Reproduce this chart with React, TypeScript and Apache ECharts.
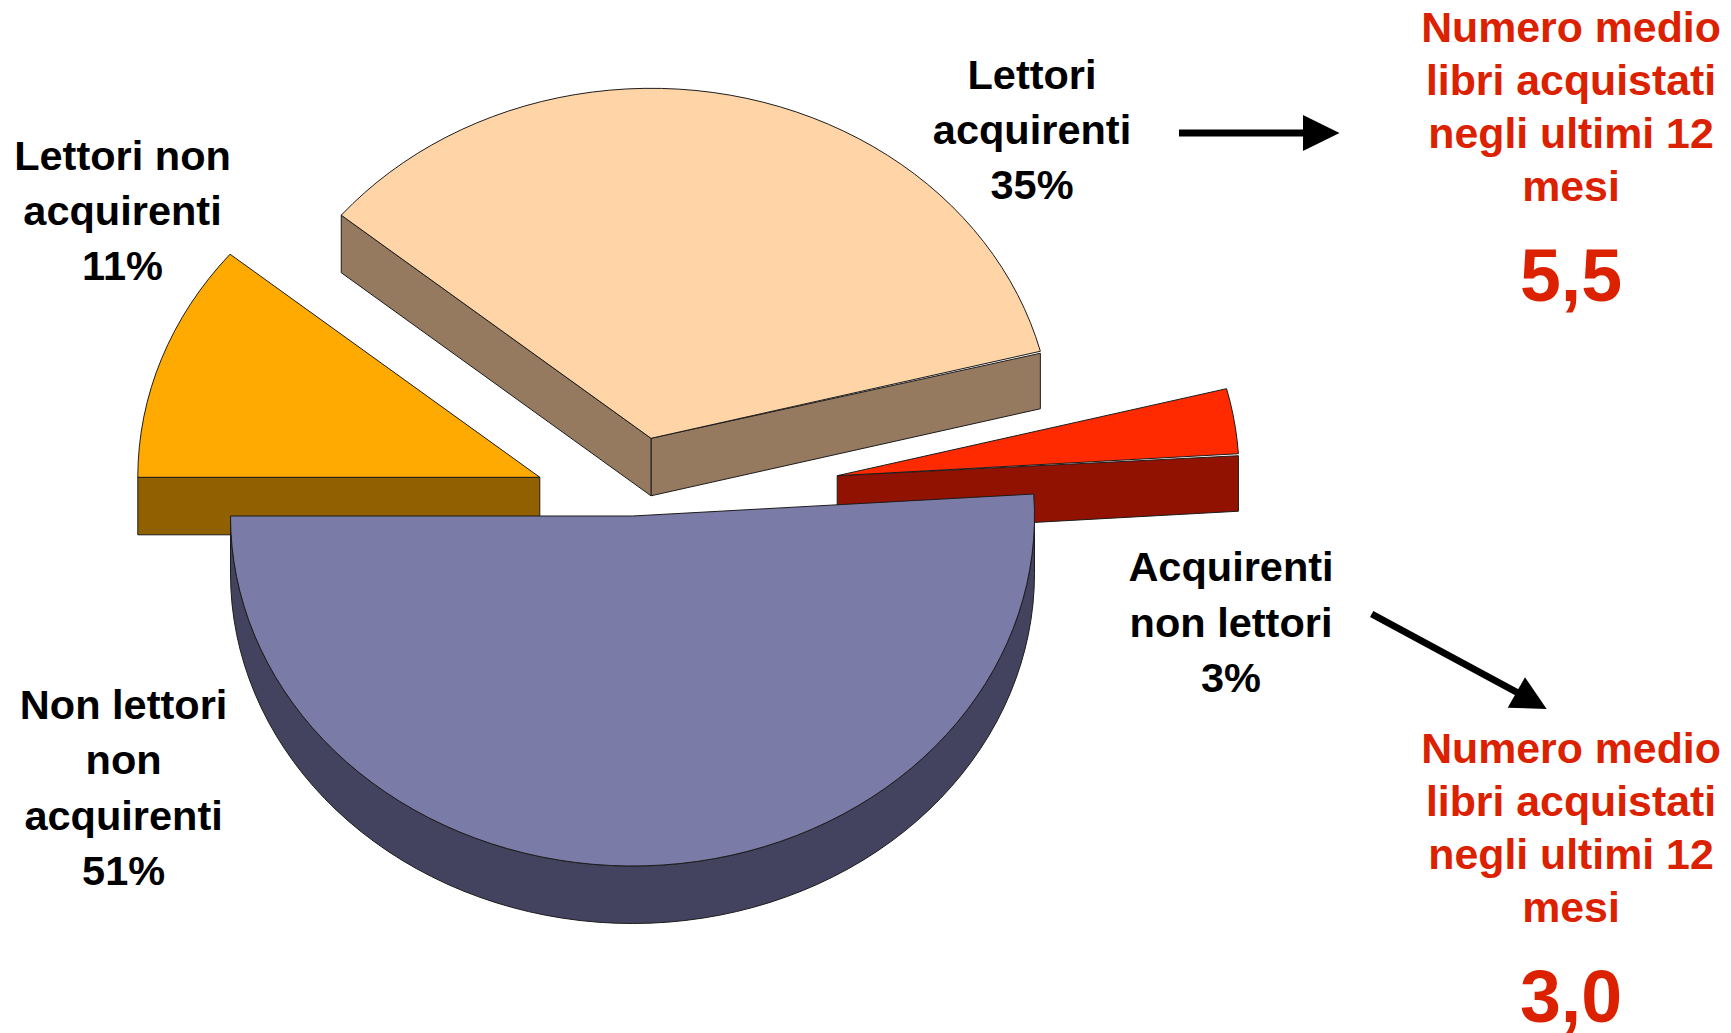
import React, { useEffect, useRef } from "react";
import * as echarts from "echarts";

const categories = ["Lettori acquirenti", "Lettori non acquirenti", "Non lettori non acquirenti", "Acquirenti non lettori"];
const shares = [35, 11, 51, 3];
const averageBooks = ["5,5", "3,0"];
const averageCaption = "Numero medio\nlibri acquistati\nnegli ultimi 12\nmesi";
const sliceLabels = [
  "Lettori\nacquirenti\n35%",
  "Lettori non\nacquirenti\n11%",
  "Non lettori\nnon\nacquirenti\n51%",
  "Acquirenti\nnon lettori\n3%",
];

const W = 1731;
const H = 1033;
const START_ANGLE = 14.4;
const RX = 402;
const RY = 350;
const DEPTH = 57.5;
const ARC_STEP = 2.5;
const apexes = [[651, 438.3], [539.8, 477.3], [632.5, 516], [837.2, 475.7]];
const topColors = ["#FFD5A8", "#FFAA00", "#7B7BA8", "#FF2A00"];
const sideColors = ["#967A60", "#916000", "#43435F", "#911200"];
const drawOrder = [0, 1, 3, 2];
const EDGE = "#1c1c1c";
const RED_TEXT = "#DB2100";

function renderSlice(params: any, api: any) {
  const i = params.dataIndex;
  const total = shares.reduce((a, b) => a + b, 0);
  const before = shares.slice(0, i).reduce((a, b) => a + b, 0);
  const a0 = START_ANGLE + (before / total) * 360;
  const a1 = a0 + (api.value(0) / total) * 360;
  const [cx, cy] = apexes[i];
  const pt = (deg: number, dy = 0) => {
    const r = (deg * Math.PI) / 180;
    return [cx + RX * Math.cos(r), cy - RY * Math.sin(r) + dy];
  };
  const arc = (from: number, to: number, dy = 0) => {
    const out: number[][] = [];
    const n = Math.max(1, Math.ceil((to - from) / ARC_STEP));
    for (let k = 0; k <= n; k++) out.push(pt(from + ((to - from) * k) / n, dy));
    return out;
  };
  const z2 = drawOrder[i] * 10;
  const poly = (points: number[][], fill: string) => ({
    type: "polygon",
    z2,
    shape: { points },
    style: { fill, stroke: EDGE, lineWidth: 1 },
  });
  const children: any[] = [];
  const side = sideColors[i];
  const cosDeg = (d: number) => Math.cos((d * Math.PI) / 180);
  if (cosDeg(a0) > 0) {
    const g = 2;
    children.push(poly([[cx, cy], pt(a0, g), pt(a0, DEPTH), [cx, cy + DEPTH]], side));
  }
  if (cosDeg(a1) < 0) {
    children.push(poly([[cx, cy], pt(a1), pt(a1, DEPTH), [cx, cy + DEPTH]], side));
  }
  const fromFront = Math.max(a0, 180);
  const toFront = Math.min(a1, 360);
  if (toFront > fromFront) {
    children.push(poly([...arc(fromFront, toFront), ...arc(fromFront, toFront, DEPTH).reverse()], side));
  }
  children.push(poly([[cx, cy], ...arc(a0, a1)], topColors[i]));
  return { type: "group", children };
}

const labelLayout = [
  { x: 1032, y: 129.5 },
  { x: 122.5, y: 210.5 },
  { x: 123.6, y: 787.5 },
  { x: 1231, y: 622 },
];

function textItem(text: string, x: number, y: number, size: number, lineHeight: number, fill: string) {
  return {
    type: "text",
    x,
    y,
    z: 10,
    style: {
      text,
      fill,
      align: "center",
      verticalAlign: "middle",
      fontFamily: "Liberation Sans",
      fontWeight: "bold",
      fontSize: size,
      lineHeight,
    },
  };
}

function arrow(shaft: number[][], head: number[][]) {
  return [
    { type: "line", z: 10, shape: { x1: shaft[0][0], y1: shaft[0][1], x2: shaft[1][0], y2: shaft[1][1] }, style: { stroke: "#000", lineWidth: 7 } },
    { type: "polygon", z: 10, shape: { points: head }, style: { fill: "#000" } },
  ];
}

export default function App() {
  const ref = useRef<HTMLDivElement>(null);
  useEffect(() => {
    document.body.style.margin = "0";
    const chart = echarts.init(ref.current!, null, { renderer: "svg" });
    chart.setOption({
      animation: false,
      backgroundColor: "#ffffff",
      series: [
        {
          type: "custom",
          coordinateSystem: "none",
          renderItem: renderSlice,
          silent: true,
          data: shares.map((v, i) => ({ name: categories[i], value: [v] })),
        },
      ],
      graphic: {
        elements: [
          ...sliceLabels.map((t, i) => textItem(t, labelLayout[i].x, labelLayout[i].y, 41.5, 55.2, "#000")),
          textItem(averageCaption, 1571, 106.5, 42.8, 53, RED_TEXT),
          textItem(averageBooks[0], 1571, 275, 73.5, 80, RED_TEXT),
          textItem(averageCaption, 1571, 827.5, 42.8, 53, RED_TEXT),
          textItem(averageBooks[1], 1571, 996, 73.5, 80, RED_TEXT),
          ...arrow([[1179, 133], [1310, 133]], [[1303, 115], [1339.5, 133], [1303, 151]]),
          ...arrow([[1371.7, 614], [1520, 694]], [[1525, 677.3], [1546.7, 709], [1507.7, 707.7]]),
        ],
      },
    });
    return () => chart.dispose();
  }, []);
  return <div ref={ref} style={{ position: "absolute", left: 0, top: 0, width: W, height: H }} />;
}
